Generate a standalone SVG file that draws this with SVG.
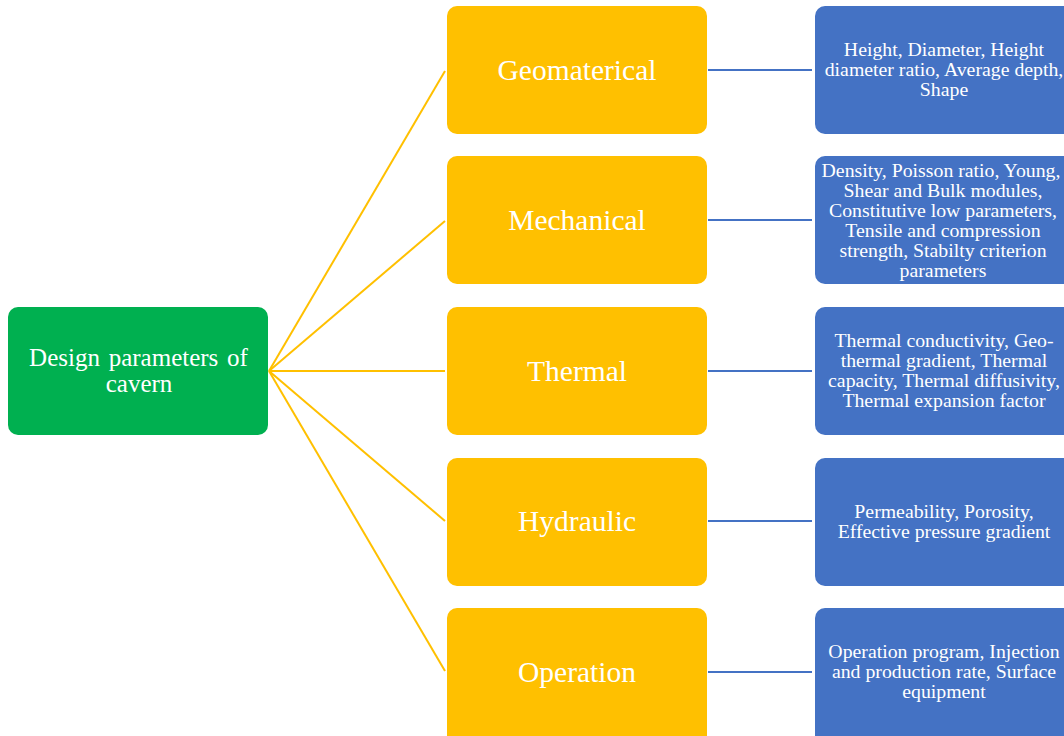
<svg xmlns="http://www.w3.org/2000/svg" width="1064" height="736" viewBox="0 0 1064 736">
<style>
.root{fill:#00B050}
.cat{fill:#FFC000}
.det{fill:#4472C4}
text{font-family:"Liberation Serif","Times New Roman",serif;fill:#FFFFFF;text-anchor:middle}
.t1{font-size:25px}
.t2{font-size:29.5px}
.t3{font-size:19.8px}
.cy{stroke:#FFC000;stroke-width:2;fill:none}
.cb{stroke:#4472C4;stroke-width:2;fill:none}
</style>
<rect width="1064" height="736" fill="#FFFFFF"/>
<g id="connectors">
<line class="cy" x1="269" y1="371" x2="445" y2="71"/>
<line class="cy" x1="269" y1="371" x2="445" y2="221"/>
<line class="cy" x1="269" y1="371" x2="445" y2="371"/>
<line class="cy" x1="269" y1="371" x2="445" y2="521"/>
<line class="cy" x1="269" y1="371" x2="445" y2="671"/>
<line class="cb" x1="708" y1="70" x2="812" y2="70"/>
<line class="cb" x1="708" y1="220" x2="812" y2="220"/>
<line class="cb" x1="708" y1="371" x2="812" y2="371"/>
<line class="cb" x1="708" y1="521" x2="812" y2="521"/>
<line class="cb" x1="708" y1="672" x2="812" y2="672"/>
</g>
<g id="root">
<rect class="root" x="8" y="307" width="260" height="128" rx="10"/>
<text class="t1" x="138.5" y="366" word-spacing="2.5">Design parameters of</text>
<text class="t1" x="139" y="392">cavern</text>
</g>
<g id="geomaterical">
<rect class="cat" x="447" y="6" width="260" height="128" rx="10"/>
<text class="t2" x="577" y="80">Geomaterical</text>
</g>
<g id="mechanical">
<rect class="cat" x="447" y="156" width="260" height="128" rx="10"/>
<text class="t2" x="577" y="230">Mechanical</text>
</g>
<g id="thermal">
<rect class="cat" x="447" y="307" width="260" height="128" rx="10"/>
<text class="t2" x="577" y="381">Thermal</text>
</g>
<g id="hydraulic">
<rect class="cat" x="447" y="458" width="260" height="128" rx="10"/>
<text class="t2" x="577" y="531">Hydraulic</text>
</g>
<g id="operation">
<rect class="cat" x="447" y="608" width="260" height="138" rx="10"/>
<text class="t2" x="577" y="682">Operation</text>
</g>
<g id="geomaterical-details">
<rect class="det" x="815" y="6" width="260" height="128" rx="10"/>
<text class="t3" x="944" y="56">Height, Diameter, Height</text>
<text class="t3" x="944" y="76">diameter ratio, Average depth,</text>
<text class="t3" x="944" y="96">Shape</text>
</g>
<g id="mechanical-details">
<rect class="det" x="815" y="156" width="260" height="128" rx="10"/>
<text class="t3" x="941" y="176.5">Density, Poisson ratio, Young,</text>
<text class="t3" x="943" y="196.5">Shear and Bulk modules,</text>
<text class="t3" x="943" y="216.5">Constitutive low parameters,</text>
<text class="t3" x="943" y="236.5">Tensile and compression</text>
<text class="t3" x="943" y="256.5">strength, Stabilty criterion</text>
<text class="t3" x="943" y="276.5">parameters</text>
</g>
<g id="thermal-details">
<rect class="det" x="815" y="307" width="260" height="128" rx="10"/>
<text class="t3" x="944" y="347">Thermal conductivity, Geo-</text>
<text class="t3" x="944" y="367">thermal gradient, Thermal</text>
<text class="t3" x="944" y="387">capacity, Thermal diffusivity,</text>
<text class="t3" x="944" y="407">Thermal expansion factor</text>
</g>
<g id="hydraulic-details">
<rect class="det" x="815" y="458" width="260" height="128" rx="10"/>
<text class="t3" x="944" y="518">Permeability, Porosity,</text>
<text class="t3" x="944" y="538">Effective pressure gradient</text>
</g>
<g id="operation-details">
<rect class="det" x="815" y="608" width="260" height="138" rx="10"/>
<text class="t3" x="944" y="658">Operation program, Injection</text>
<text class="t3" x="944" y="678">and production rate, Surface</text>
<text class="t3" x="944" y="698">equipment</text>
</g>
</svg>
